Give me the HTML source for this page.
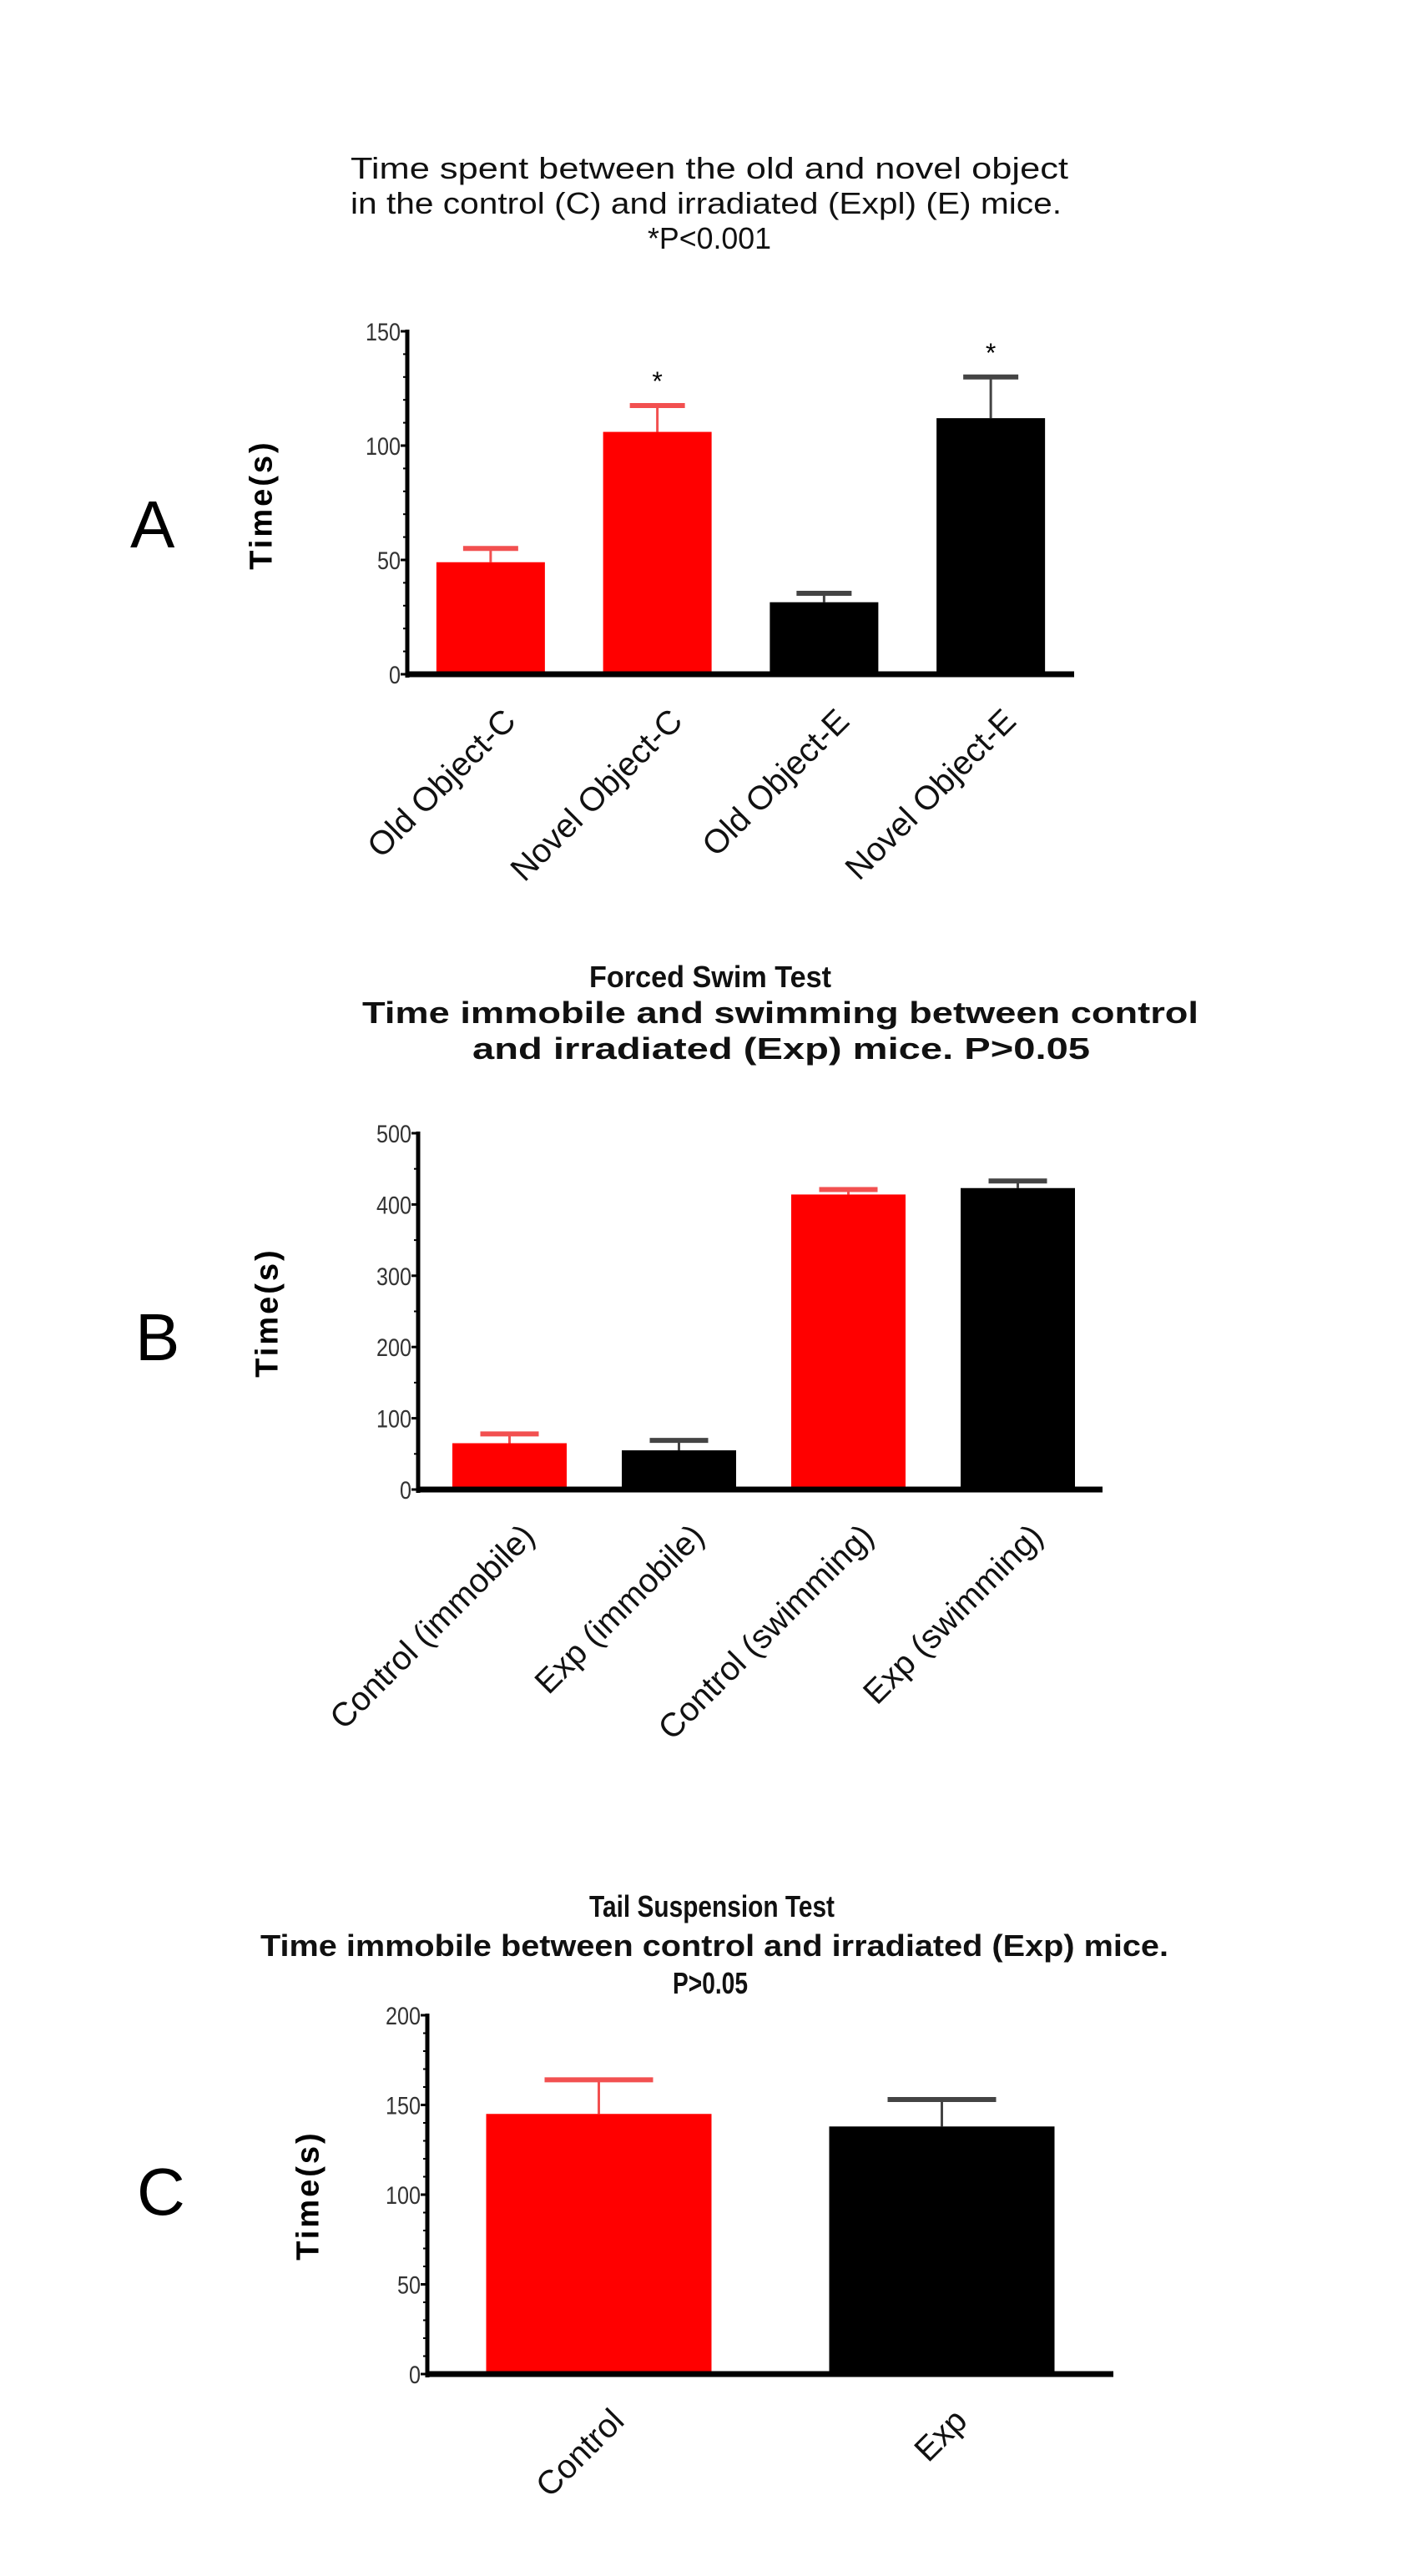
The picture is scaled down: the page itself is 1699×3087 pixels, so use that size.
<!DOCTYPE html>
<html><head><meta charset="utf-8"><style>
html,body{margin:0;padding:0;background:#fff;}
svg{display:block;font-family:"Liberation Sans",Arial,sans-serif;}
</style></head><body>
<svg id="fig" width="1699" height="3087" viewBox="0 0 1699 3087" xmlns="http://www.w3.org/2000/svg">
<g font-size="36" text-anchor="start" fill="#111">
<text x="420" y="214" textLength="860" lengthAdjust="spacingAndGlyphs">Time spent between the old and novel object</text>
<text x="420" y="256" textLength="852" lengthAdjust="spacingAndGlyphs">in the control (C) and irradiated (Expl) (E) mice.</text>
<text x="776" y="298" textLength="148" lengthAdjust="spacingAndGlyphs">*P&lt;0.001</text>
</g>
<g font-size="36" font-weight="bold" fill="#111">
<text x="706" y="1183" textLength="290" lengthAdjust="spacingAndGlyphs">Forced Swim Test</text>
<text x="434" y="1226" textLength="1002" lengthAdjust="spacingAndGlyphs">Time immobile and swimming between control</text>
<text x="566" y="1269" textLength="740" lengthAdjust="spacingAndGlyphs">and irradiated (Exp) mice. P&gt;0.05</text>
</g>
<g font-size="36" font-weight="bold" fill="#111">
<text x="706" y="2297" textLength="294" lengthAdjust="spacingAndGlyphs">Tail Suspension Test</text>
<text x="312" y="2344" textLength="1088" lengthAdjust="spacingAndGlyphs">Time immobile between control and irradiated (Exp) mice.</text>
<text x="806" y="2389" textLength="90" lengthAdjust="spacingAndGlyphs">P&gt;0.05</text>
</g>
<text x="156" y="656" font-size="80">A</text>
<text x="162" y="1630" font-size="80">B</text>
<text x="164" y="2654" font-size="80">C</text>
</svg>
<script>
// Panel A data
const catsA = ["Old Object-C","Novel Object-C","Old Object-E","Novel Object-E"];
const valsA = [49, 106, 31.5, 112];
const errsA = [55, 117.5, 35.4, 130];
const groupA = [0, 0, 1, 1];
const ticksA = [0, 50, 100, 150];
// Panel B data
const catsB = ["Control (immobile)","Exp (immobile)","Control (swimming)","Exp (swimming)"];
const valsB = [65, 55, 414, 423];
const errsB = [78, 69, 421, 433];
const groupB = [0, 1, 0, 1];
const ticksB = [0, 100, 200, 300, 400, 500];
// Panel C data
const catsC = ["Control","Exp"];
const valsC = [145, 138];
const errsC = [164, 153];
const groupC = [0, 1];
const ticksC = [0, 50, 100, 150, 200];

const NS = "http://www.w3.org/2000/svg";
const svg = document.getElementById('fig');
function mk(tag, attrs, parent) {
  const e = document.createElementNS(NS, tag);
  for (const k in attrs) e.setAttribute(k, attrs[k]);
  (parent || svg).appendChild(e);
  return e;
}
const colorsRB = ["#ff0000", "#000000"];
const errColors = ["#f25050", "#444444"];

function panel(cfg) {
  const g = mk('g', {});
  
  
  const ymax = cfg.ticks[cfg.ticks.length - 1];
  const yScale = v => cfg.y0 - (v / ymax) * (cfg.y0 - cfg.yTop);
  const n = cfg.cats.length;
  const step = (cfg.xRight - cfg.xAxis - cfg.padL) / n;
  const xCenter = i => cfg.xAxis + cfg.padL + step * (i + 0.5);
  cfg.vals.forEach((v, i) => {
    const cx = xCenter(i);
    const ci = cfg.groups[i];
    const top = yScale(v), et = yScale(cfg.errs[i]);
    const ebar = mk('g', {}, g);
    
    
    mk('line', {x1: cx, x2: cx, y1: top, y2: et, stroke: errColors[ci], 'stroke-width': 3}, ebar);
    mk('line', {x1: cx - cfg.capW / 2, x2: cx + cfg.capW / 2, y1: et, y2: et, stroke: errColors[ci], 'stroke-width': 6}, ebar);
    const r = mk('rect', {x: cx - cfg.barW / 2, y: top, width: cfg.barW, height: cfg.y0 - top, fill: colorsRB[ci]}, g);
    
    
    if (cfg.stars && cfg.stars[i]) {
      const s = mk('text', {x: cx, y: et - 18, 'font-size': 32, 'text-anchor': 'middle'}, g);
      
      
      s.textContent = '*';
    }
    const lx = cx + 12, ly = cfg.y0 + 38;
    const t = mk('text', {x: lx, y: ly, 'font-size': 40, 'text-anchor': 'end', fill: '#111',
      transform: 'rotate(-45 ' + lx + ' ' + ly + ')', dy: '0.72em'}, g);
    
    
    t.textContent = cfg.cats[i];
  });
  const ya = mk('line', {x1: cfg.xAxis, x2: cfg.xAxis, y1: cfg.yTop - 2, y2: cfg.y0 + 4, stroke: '#000', 'stroke-width': 5}, g);
  
  
  const xa = mk('line', {x1: cfg.xAxis - 2, x2: cfg.xRight, y1: cfg.y0, y2: cfg.y0, stroke: '#000', 'stroke-width': 7}, g);
  
  
  for (let k = 0; k < cfg.ticks.length; k++) {
    const y = yScale(cfg.ticks[k]);
    mk('line', {x1: cfg.xAxis - 8, x2: cfg.xAxis, y1: y, y2: y, stroke: '#000', 'stroke-width': 3}, g);
    const tl = mk('text', {x: cfg.xAxis - 8, y: y + 11, 'font-size': 30, 'text-anchor': 'end', fill: '#333',
      textLength: String(cfg.ticks[k]).length * 14, lengthAdjust: 'spacingAndGlyphs'}, g);
    
    
    tl.textContent = cfg.ticks[k];
    if (k < cfg.ticks.length - 1) {
      const m = cfg.minor;
      for (let j = 1; j < m; j++) {
        const yy = yScale(cfg.ticks[k] + (cfg.ticks[k + 1] - cfg.ticks[k]) * j / m);
        mk('line', {x1: cfg.xAxis - 5, x2: cfg.xAxis, y1: yy, y2: yy, stroke: '#000', 'stroke-width': 2}, g);
      }
    }
  }
  const yt = mk('text', {x: cfg.titleX, y: cfg.titleY, 'font-size': 38, 'font-weight': 'bold', 'text-anchor': 'middle',
    'letter-spacing': 3, transform: 'rotate(-90 ' + cfg.titleX + ' ' + cfg.titleY + ')', dy: '0.35em'}, g);
  
  
  yt.textContent = 'Time(s)';
}

panel({name: 'chart-a', cats: catsA, vals: valsA, errs: errsA, groups: groupA, ticks: ticksA, xAxis: 488, xRight: 1287,
  yTop: 397, y0: 808, padL: 0, barW: 130, capW: 66, minor: 5, stars: [0, 1, 0, 1], titleX: 312, titleY: 605});
panel({name: 'chart-b', cats: catsB, vals: valsB, errs: errsB, groups: groupB, ticks: ticksB, xAxis: 501, xRight: 1321,
  yTop: 1358, y0: 1785, padL: 8, barW: 137, capW: 70, minor: 2, titleX: 319, titleY: 1573});
panel({name: 'chart-c', cats: catsC, vals: valsC, errs: errsC, groups: groupC, ticks: ticksC, xAxis: 512, xRight: 1334,
  yTop: 2415, y0: 2845, padL: 0, barW: 270, capW: 130, minor: 5, titleX: 368, titleY: 2631});
</script>
</body></html>
